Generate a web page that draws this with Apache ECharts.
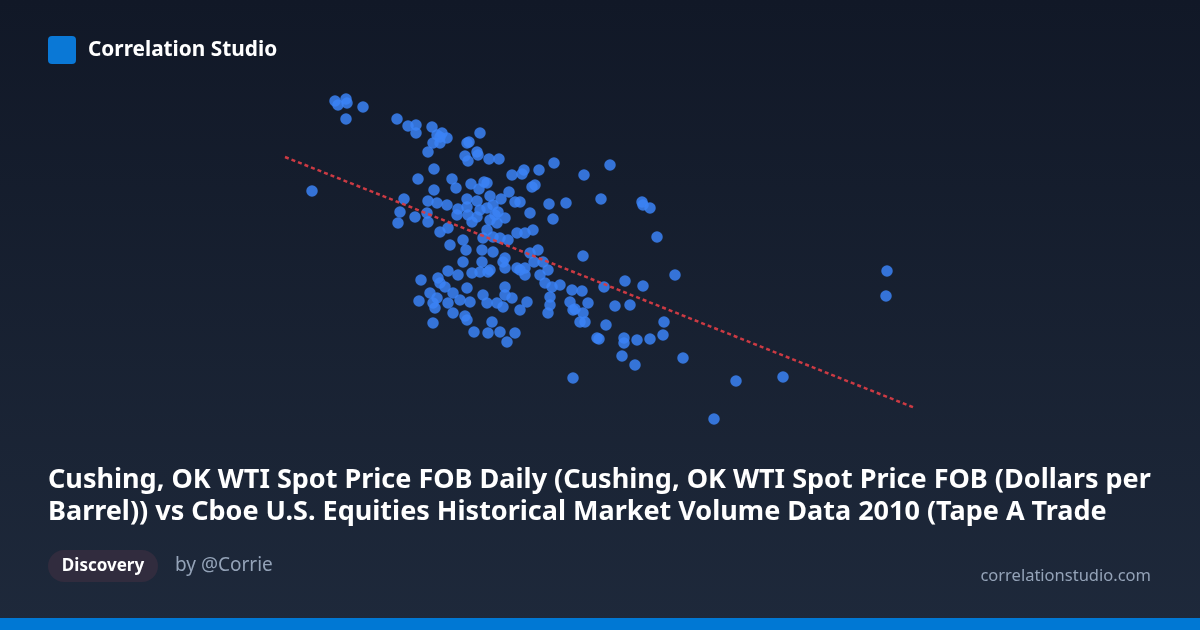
<!DOCTYPE html>
<html>
<head>
<meta charset="utf-8">
<script src="https://cdn.jsdelivr.net/npm/echarts@6/dist/echarts.min.js"></script>
<style>
html,body{margin:0;padding:0;width:1200px;height:630px;overflow:hidden;background:linear-gradient(#111827,#1e293b);}
#chart{width:1200px;height:630px;}
</style>
</head>
<body>
<div id="chart"></div>
<script>
// WTI spot price (x) and Tape A volume (y)
const wtiPrice = [
65.0,65.3,66.1,66.2,67.8,66.1,62.7,71.2,72.3,73.1,
73.1,74.7,75.2,75.7,76.2,74.8,75.5,75.5,74.3,78.2,
78.4,79.5,78.0,78.3,79.2,79.3,80.4,81.4,86.9,92.5,
74.9,73.3,76.7,77.1,74.9,78.6,79.4,79.9,80.2,80.5,
82.4,82.7,83.7,83.9,85.4,84.7,85.0,89.9,91.6,71.9,
74.3,75.2,76.2,78.2,79.2,81.6,83.0,83.5,86.4,88.1,
95.7,95.8,96.5,77.3,71.5,71.3,73.0,74.2,74.3,75.5,
76.3,76.5,77.2,78.2,78.3,79.2,78.7,80.2,80.8,81.3,
80.5,81.2,82.0,80.2,79.8,80.8,81.5,82.3,83.2,84.0,
84.8,84.5,86.8,77.8,97.2,79.5,81.0,78.1,79.7,80.8,
82.0,82.0,83.2,84.0,84.5,85.3,84.9,85.8,86.3,77.8,
79.7,81.8,76.3,77.3,78.7,79.5,80.3,73.6,75.3,75.5,
76.0,83.5,84.0,85.5,86.0,86.7,87.5,89.8,99.0,94.0,
95.8,91.9,88.7,89.7,78.2,80.5,73.4,74.5,74.8,75.0,
76.8,77.5,78.5,76.3,79.8,80.2,81.2,82.0,82.0,82.7,
81.8,83.5,84.2,86.5,86.5,86.3,88.5,88.8,89.8,90.3,
89.5,90.0,74.8,76.8,78.0,78.2,78.9,80.7,80.3,81.5,
83.0,82.2,91.2,93.0,94.5,97.9,97.8,92.1,91.4,93.9,
93.9,95.2,96.5,89.0,75.2,93.7,95.0,99.8,88.8,105.1,
109.8,102.9,120.2,120.1
];
const tapeAVolume = [
339,335,341,337,333,321,249,321,314,315,
307,313,305,307,302,297,297,303,288,297,
298,307,284,279,288,285,281,281,277,275,
271,261,261,252,250,256,251,258,257,244,
248,265,266,270,270,253,255,265,241,241,
239,237,235,241,239,241,238,238,236,237,
238,235,232,231,228,217,223,227,218,208,
212,195,225,233,225,223,218,232,235,228,
220,217,222,210,202,203,202,200,207,207,
210,227,221,200,203,230,225,190,190,188,
182,172,172,172,187,190,178,178,170,178,
178,178,169,165,167,168,168,160,162,157,
153,170,165,165,157,153,155,184,165,159,
154,153,150,149,152,170,139,147,137,132,
147,140,138,137,145,137,137,153,145,142,
133,130,138,143,135,127,138,130,127,137,
118,118,117,127,124,120,108,118,107,108,
107,98,102,134,135,118,105,115,101,102,
97,100,101,131,142,84,75,82,62,59,
63,21,169,144
];
// trend line end points
const trendX = [60, 123];
const trendY = [283, 32];

const chart = echarts.init(document.getElementById('chart'), null, {renderer: 'canvas'});
const pts = wtiPrice.map((x, i) => [x, tapeAVolume[i]]);
const trend = trendX.map((x, i) => [x, trendY[i]]);

chart.setOption({
  backgroundColor: new echarts.graphic.LinearGradient(0, 0, 0, 1, [
    {offset: 0, color: '#111827'}, {offset: 1, color: '#1e293b'}
  ]),
  animation: false,
  grid: {left: 285, top: 80, width: 630, height: 360},
  xAxis: {type: 'value', min: 60, max: 123, show: false},
  yAxis: {type: 'value', min: 0, max: 360, show: false},
  series: [
    {
      type: 'scatter',
      data: pts,
      symbolSize: 11.5,
      itemStyle: {color: '#3b82f6', opacity: 0.85},
      z: 2
    },
    {
      type: 'line',
      data: trend,
      symbol: 'none',
      lineStyle: {color: '#d63c44', width: 2.5, type: [4, 3], opacity: 0.95},
      z: 3
    }
  ],
  graphic: [
    {type: 'rect', shape: {x: 48, y: 36, width: 28, height: 28, r: 4}, style: {fill: '#0a78d6'}},
    {type: 'text', x: 88, y: 50, style: {text: 'Correlation Studio', font: 'bold 20.8px "Noto Sans"', fill: '#ffffff', textVerticalAlign: 'middle'}},
    {type: 'text', x: 48, y: 480, style: {text: 'Cushing, OK WTI Spot Price FOB Daily (Cushing, OK WTI Spot Price FOB (Dollars per', font: 'bold 27px "Noto Sans"', fill: '#ffffff', textVerticalAlign: 'middle'}},
    {type: 'text', x: 48, y: 512, style: {text: 'Barrel)) vs Cboe U.S. Equities Historical Market Volume Data 2010 (Tape A Trade', font: 'bold 27px "Noto Sans"', fill: '#ffffff', textVerticalAlign: 'middle'}},
    {type: 'rect', shape: {x: 48, y: 550, width: 110, height: 32, r: 16}, style: {fill: '#312c3e'}},
    {type: 'text', x: 103, y: 566, style: {text: 'Discovery', font: 'bold 17px "Noto Sans"', fill: '#ffffff', textAlign: 'center', textVerticalAlign: 'middle'}},
    {type: 'text', x: 175, y: 566, style: {text: 'by @Corrie', font: '19px "Noto Sans"', fill: '#94a3b8', textVerticalAlign: 'middle'}},
    {type: 'text', x: 1151, y: 576, style: {text: 'correlationstudio.com', font: '16.5px "Noto Sans"', fill: '#94a3b8', textAlign: 'right', textVerticalAlign: 'middle'}},
    {type: 'rect', shape: {x: 0, y: 618, width: 1200, height: 12}, style: {fill: '#0078d4'}}
  ]
});
</script>
</body>
</html>
